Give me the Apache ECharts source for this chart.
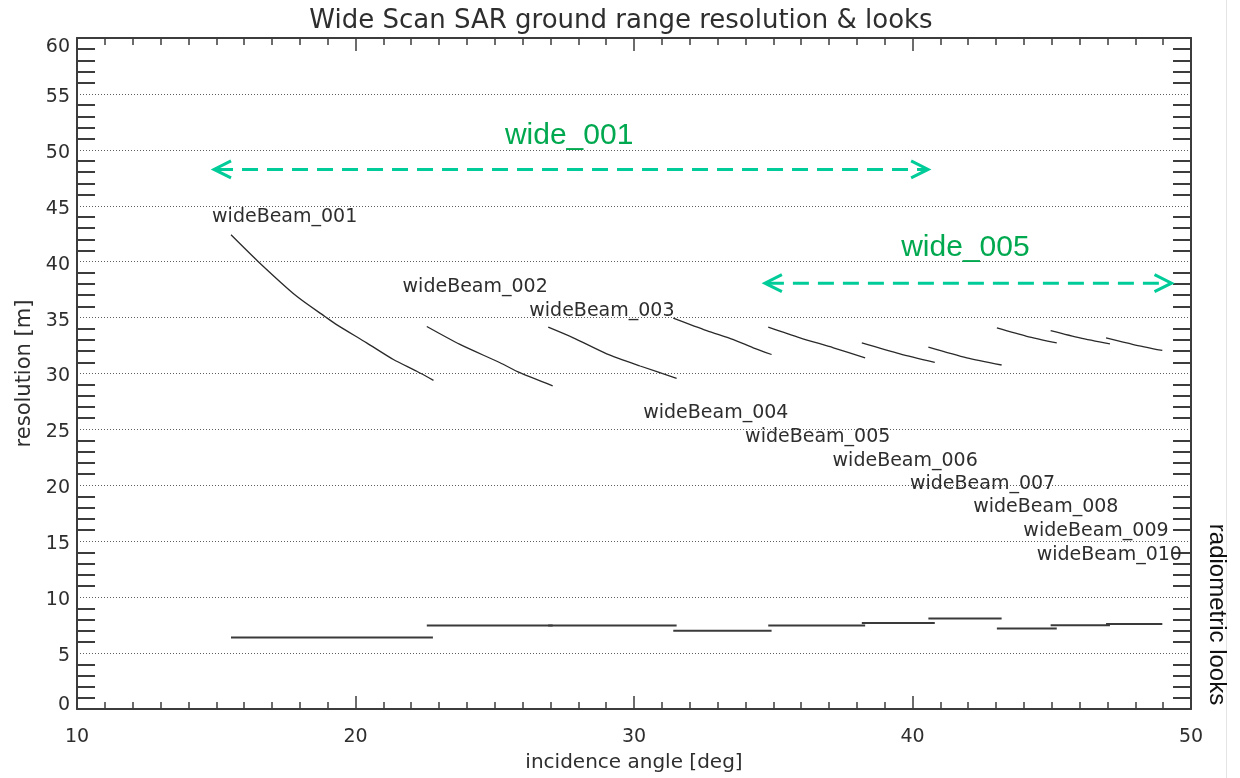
<!DOCTYPE html>
<html>
<head>
<meta charset="utf-8">
<script src="https://cdn.jsdelivr.net/npm/echarts@6/dist/echarts.min.js"></script>
<style>html,body{margin:0;padding:0;background:#fff;}#c{width:1240px;height:778px;}</style>
</head>
<body>
<div id="c"></div>
<script>
// ---- data ----
const beamNames = ['wideBeam_001','wideBeam_002','wideBeam_003','wideBeam_004','wideBeam_005',
                   'wideBeam_006','wideBeam_007','wideBeam_008','wideBeam_009','wideBeam_010'];
// ground range resolution curves: incidence angle [deg] and resolution [m]
const resAngles = [
  [15.53, 16.51, 17.89, 18.90, 19.32, 20.40, 21.36, 22.20, 22.80],
  [22.56, 23.75, 25.19, 25.90, 27.08],
  [26.92, 27.82, 29.02, 30.22, 31.53],
  [31.41, 32.61, 33.57, 34.28, 34.94],
  [34.82, 35.96, 37.16, 38.30],
  [38.18, 39.55, 40.80],
  [40.57, 41.95, 43.20],
  [43.03, 44.10, 45.18],
  [44.96, 46.01, 47.09],
  [46.95, 47.93, 48.97]
];
const resValues = [
  [42.40, 40.00, 36.90, 35.10, 34.37, 32.74, 31.25, 30.20, 29.39],
  [34.20, 32.60, 30.96, 30.07, 28.90],
  [34.14, 33.19, 31.76, 30.67, 29.57],
  [34.96, 33.84, 33.03, 32.30, 31.70],
  [34.14, 33.19, 32.30, 31.40],
  [32.74, 31.76, 31.00],
  [32.36, 31.40, 30.76],
  [34.07, 33.33, 32.74],
  [33.84, 33.19, 32.65],
  [33.18, 32.59, 32.06]
];
// radiometric looks per beam: angle range and looks
const looksStart = [15.53, 22.56, 26.92, 31.41, 34.82, 38.18, 40.57, 43.03, 44.96, 46.95];
const looksEnd   = [22.78, 27.08, 31.53, 34.94, 38.30, 40.80, 43.20, 45.18, 47.09, 48.97];
const looksValue = [6.40, 7.47, 7.47, 7.00, 7.47, 7.70, 8.10, 7.20, 7.50, 7.59];
// beam label anchor positions (left edge, vertical middle)
const labelX = [14.85, 21.69, 26.24, 30.33, 33.99, 37.13, 39.91, 42.18, 43.98, 44.46];
const labelY = [44.00, 37.75, 35.55, 26.45, 24.35, 22.20, 20.15, 18.02, 15.88, 13.75];
// coverage annotations
const coverNames = ['wide_001', 'wide_005'];
const coverStart = [14.92, 34.70];
const coverEnd   = [40.56, 49.30];
const coverArrowY = [48.25, 38.08];
const coverTextX = [27.67, 41.90];
const coverTextY = [51.30, 41.28];
// axis ticks
const xTicks = [10, 20, 30, 40, 50];
const yTicks = [0, 5, 10, 15, 20, 25, 30, 35, 40, 45, 50, 55, 60];

// ---- chart ----
const FONT = 'DejaVu Sans';
const TXT = '#2e2e2e';
const AX = '#3c3c3c';
const chart = echarts.init(document.getElementById('c'), null, {renderer: 'canvas'});

const series = [];
beamNames.forEach((n, i) => {
  series.push({
    type: 'line', name: n + ' res', xAxisIndex: 0, yAxisIndex: 0,
    data: resAngles[i].map((a, k) => [a, resValues[i][k]]),
    showSymbol: false, smooth: 0.25, silent: true,
    lineStyle: {color: '#2a2a2a', width: 1.3}
  });
  series.push({
    type: 'line', name: n + ' looks', xAxisIndex: 0, yAxisIndex: 1,
    data: [[looksStart[i], looksValue[i]], [looksEnd[i], looksValue[i]]],
    showSymbol: false, silent: true,
    lineStyle: {color: '#3a3a3a', width: 2}
  });
});
series.push({
  type: 'scatter', name: 'beam labels', xAxisIndex: 0, yAxisIndex: 0,
  symbolSize: 0, silent: true, itemStyle: {opacity: 1},
  data: beamNames.map((n, i) => ({name: n, value: [labelX[i], labelY[i]]})),
  label: {show: true, position: 'right', distance: 0, formatter: '{b}',
          fontFamily: FONT, fontSize: 19, color: TXT, opacity: 1}
});
series.push({
  type: 'scatter', name: 'cover labels', xAxisIndex: 0, yAxisIndex: 0,
  symbolSize: 0, silent: true, itemStyle: {opacity: 1},
  data: coverNames.map((n, i) => ({name: n, value: [coverTextX[i], coverTextY[i]]})),
  label: {show: true, position: 'inside', formatter: '{b}', opacity: 1,
          fontFamily: 'Liberation Sans', fontSize: 30, color: '#00a84f'}
});
series.push({
  type: 'custom', name: 'cover arrows', xAxisIndex: 0, yAxisIndex: 0, silent: true,
  data: coverNames.map((n, i) => [coverStart[i], coverEnd[i], coverArrowY[i]]),
  renderItem: function (params, api) {
    const p1 = api.coord([api.value(0), api.value(2)]);
    const p2 = api.coord([api.value(1), api.value(2)]);
    const col = '#00cc99';
    const L = 17, H = 8.5;
    return {
      type: 'group',
      children: [
        {type: 'line', shape: {x1: p1[0] + 3, y1: p1[1], x2: p2[0] - 3, y2: p2[1]},
         style: {stroke: col, lineWidth: 3, lineDash: [16, 9]}},
        {type: 'polyline', shape: {points: [[p1[0] + L, p1[1] - H], [p1[0], p1[1]], [p1[0] + L, p1[1] + H]]},
         style: {stroke: col, lineWidth: 3, fill: null}},
        {type: 'polyline', shape: {points: [[p2[0] - L, p2[1] - H], [p2[0], p2[1]], [p2[0] - L, p2[1] + H]]},
         style: {stroke: col, lineWidth: 3, fill: null}}
      ]
    };
  }
});

const xAxisBase = {
  type: 'value', min: xTicks[0], max: xTicks[xTicks.length - 1], interval: 10,
  axisLine: {show: true, onZero: false, lineStyle: {color: AX, width: 2}},
  axisTick: {show: true, inside: true, length: 13, lineStyle: {color: AX, width: 1.5}},
  minorTick: {show: true, splitNumber: 10, length: 7, lineStyle: {color: AX, width: 1.5}},
  splitLine: {show: false}
};
const yAxisBase = {
  type: 'value', min: yTicks[0], max: yTicks[yTicks.length - 1], interval: 5,
  axisLine: {show: true, onZero: false, lineStyle: {color: AX, width: 2}},
  axisTick: {show: false, inside: true},
  minorTick: {show: true, splitNumber: 5, length: 18, lineStyle: {color: AX, width: 2}}
};

const yMin = yTicks[0], yMax = yTicks[yTicks.length - 1];

chart.setOption({
  animation: false,
  backgroundColor: '#ffffff',
  title: {
    text: 'Wide Scan SAR ground range resolution & looks',
    left: 616, top: 3, textAlign: 'center',
    textStyle: {fontFamily: FONT, fontSize: 26, fontWeight: 'normal', color: TXT}
  },
  grid: {left: 77, top: 38, width: 1114, height: 675, containLabel: false},
  xAxis: [
    Object.assign({}, xAxisBase, {
      position: 'bottom',
      name: 'incidence angle [deg]', nameLocation: 'middle', nameGap: 44,
      nameTextStyle: {fontFamily: FONT, fontSize: 20, color: TXT},
      axisLabel: {show: true, margin: 19, fontFamily: FONT, fontSize: 19, color: TXT,
                  formatter: v => xTicks.indexOf(v) >= 0 ? String(v) : ''}
    }),
    Object.assign({}, xAxisBase, {position: 'top', axisLabel: {show: false}})
  ],
  yAxis: [
    Object.assign({}, yAxisBase, {
      position: 'left',
      name: 'resolution [m]', nameLocation: 'middle', nameGap: 40,
      nameTextStyle: {fontFamily: FONT, fontSize: 21, color: TXT},
      axisLabel: {show: true, margin: 7, fontFamily: FONT, fontSize: 19, color: TXT,
                  formatter: v => {
                    if (yTicks.indexOf(v) < 0) return '';
                    if (v === yMax) return '{top|' + v + '}';
                    if (v === yMin) return '{bot|' + v + '}';
                    return '{n|' + v + '}';
                  },
                  rich: {
                    top: {fontFamily: FONT, fontSize: 19, color: TXT, padding: [18, 0, 0, 0]},
                    bot: {fontFamily: FONT, fontSize: 19, color: TXT, padding: [0, 0, 8, 0]},
                    n: {fontFamily: FONT, fontSize: 19, color: TXT, padding: [6, 0, 0, 0]}
                  }},
      splitLine: {show: true, lineStyle: {color: '#5e5e5e', width: 1, type: [1, 2]}}
    }),
    Object.assign({}, yAxisBase, {
      position: 'right',
      name: 'radiometric looks', nameLocation: 'middle', nameGap: 14, nameRotate: -90,
      nameTextStyle: {fontFamily: 'Liberation Sans', fontSize: 24, color: '#111',
                      padding: [0, 0, 0, 482]},
      axisLabel: {show: false},
      splitLine: {show: false}
    })
  ],
  graphic: [{
    type: 'line', silent: true,
    shape: {x1: 1226.5, y1: 0, x2: 1226.5, y2: 778},
    style: {stroke: '#e4e4e4', lineWidth: 1}
  }],
  series: series
});
</script>
</body>
</html>
